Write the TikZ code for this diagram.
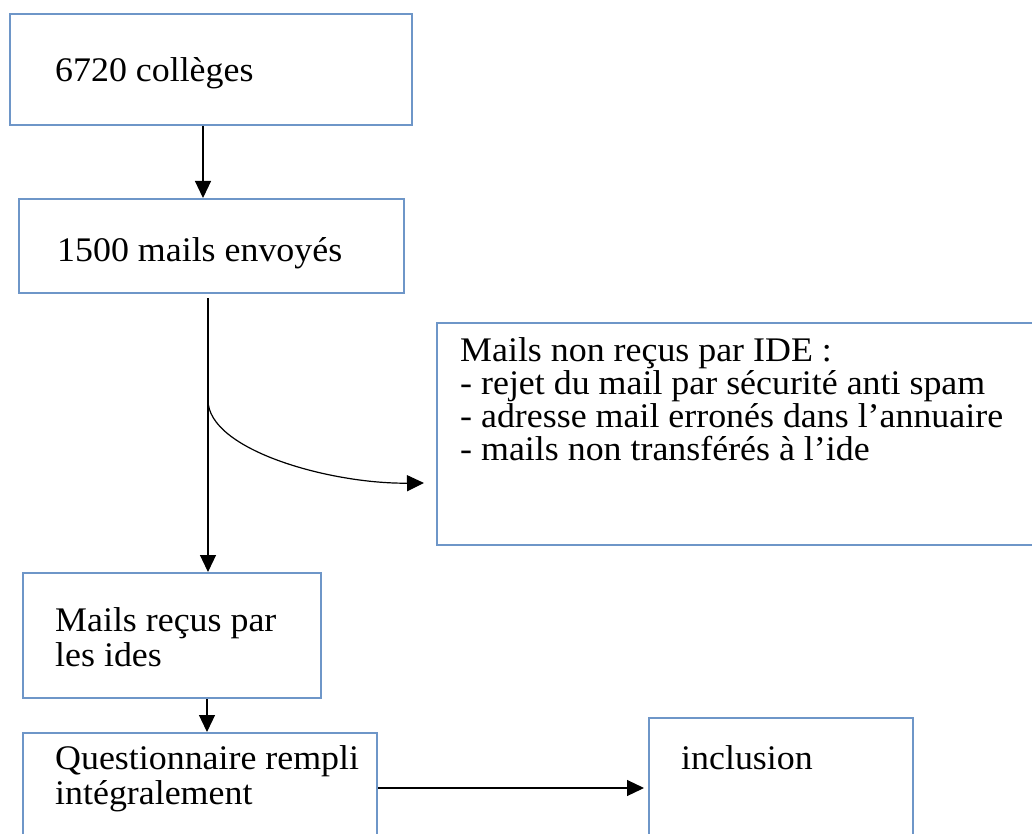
\documentclass[tikz,border=0pt]{standalone}
\usepackage{fontspec}
\setmainfont{Liberation Serif}[FakeStretch=1.04]
\usetikzlibrary{arrows.meta}
\definecolor{boxblue}{RGB}{110,150,200}
\tikzset{
  box/.style={draw=boxblue, line width=2pt, rectangle, inner sep=0pt},
  lbl/.style={anchor=base west, inner sep=0pt, font=\fontsize{34.5}{36}\selectfont},
  arr/.style={draw=black, line width=1.2pt, -{Triangle[length=17pt,width=16pt]}}
}
\begin{document}
\begin{tikzpicture}[x=1pt,y=-1pt]
\useasboundingbox (0,0) rectangle (1032,834);
\fill[white] (0,0) rectangle (1032,834);
% boxes
\node[box, minimum width=402pt, minimum height=111pt] (b1) at (211,69.5) {};
\node[box, minimum width=385pt, minimum height=94pt] (b2) at (211.5,246) {};
\node[box, minimum width=603pt, minimum height=222pt] (b3) at (738.5,434) {};
\node[box, minimum width=298pt, minimum height=125pt] (b4) at (172,635.5) {};
\node[box, minimum width=354pt, minimum height=117pt] (b5) at (200,791.5) {};
\node[box, minimum width=264pt, minimum height=132pt] (b6) at (781,784) {};
% texts
\node[lbl] (t1) at (55,82) {6720 collèges};
\node[lbl] (t2) at (57,261) {1500 mails envoyés};
\node[lbl] (t3a) at (460,361) {Mails non reçus par IDE :};
\node[lbl] (t3b) at (460,394) {- rejet du mail par sécurité anti spam};
\node[lbl] (t3c) at (460,427) {- adresse mail erronés dans l’annuaire};
\node[lbl] (t3d) at (460,460) {- mails non transférés à l’ide};
\node[lbl] (t4a) at (55,631) {Mails reçus par};
\node[lbl] (t4b) at (55,666) {les ides};
\node[lbl] (t5a) at (55,769) {Questionnaire rempli};
\node[lbl] (t5b) at (55,804) {intégralement};
\node[lbl] (t6) at (681,769) {inclusion};
% connector coordinates
\coordinate (x1) at (203,0);
\coordinate (s2) at (208,298);
\coordinate (bend) at (208,400);
\coordinate (c3) at (424,483);
\coordinate (x3) at (207,0);
\coordinate (y4) at (0,788);
% connectors
\draw[arr] (b1.south -| x1) -- (b2.north -| x1);
\draw[arr] (s2) -- (b4.north -| s2);
\draw[arr] (bend) .. controls (208,450) and (330,484) .. (c3);
\draw[arr] (b4.south -| x3) -- (b5.north -| x3);
\draw[arr, shorten >=4pt] (b5.east |- y4) -- (b6.west |- y4);
\end{tikzpicture}
\end{document}
